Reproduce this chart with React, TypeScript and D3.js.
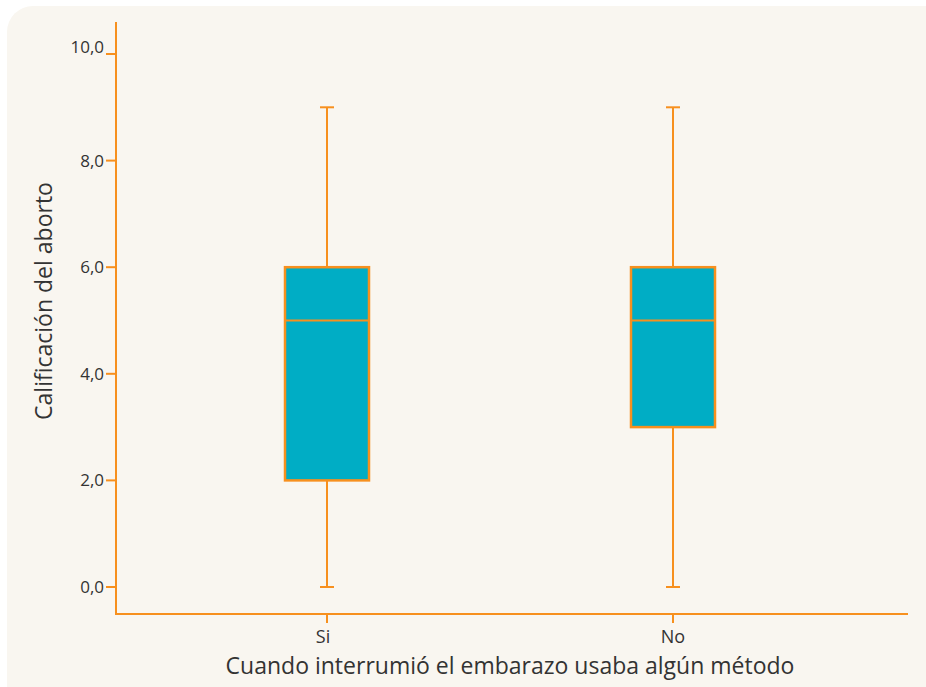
import React from "react";
import * as d3 from "d3";

const categories = ["Si", "No"];
const whiskerMax = [9, 9];
const q3 = [6, 6];
const median = [5, 5];
const q1 = [2, 3];
const whiskerMin = [0, 0];
const yTicks = [0, 2, 4, 6, 8, 10];

const W = 926;
const H = 687;
const ORANGE = "#f7901e";
const TEAL = "#00adc5";
const TEXT = "#333333";
const FONT = "'Open Sans', sans-serif";

export default function App() {
  const y = d3.scaleLinear().domain([0, 10]).range([587, 54]);
  const x = d3.scaleBand<string>().domain(categories).range([154, 846]).paddingInner(0);
  const fmt = (v: number) => d3.format(".1f")(v).replace(".", ",");
  const boxW = 84;
  const capW = 14;
  const axisX = 116;
  const axisY = 614;
  return (
    <svg width={W} height={H} style={{ position: "absolute", left: 0, top: 0, display: "block" }}>
      <rect x={7} y={6} width={W + 40} height={H + 40} rx={26} ry={26} fill="#f9f6f0" />
      <line x1={axisX} x2={axisX} y1={22} y2={axisY} stroke={ORANGE} strokeWidth={2} />
      <line x1={axisX - 1} x2={908} y1={axisY} y2={axisY} stroke={ORANGE} strokeWidth={2} />
      {yTicks.map((t) => (
        <g key={t}>
          <line x1={axisX - 10} x2={axisX} y1={y(t)} y2={y(t)} stroke={ORANGE} strokeWidth={2} />
          <text
            x={axisX - 12}
            y={t === 10 ? y(t) - 1 : y(t)}
            dy={t === 10 ? "0" : "0.35em"}
            textAnchor="end"
            fontSize={17}
            fill={TEXT}
            fontFamily={FONT}
          >
            {fmt(t)}
          </text>
        </g>
      ))}
      {categories.map((c, i) => {
        const cx = (x(c) as number) + x.bandwidth() / 2;
        return (
          <g key={c}>
            <line x1={cx} x2={cx} y1={axisY} y2={axisY + 9} stroke={ORANGE} strokeWidth={2} />
            <text x={cx - (i === 0 ? 4 : 0)} y={643} textAnchor="middle" fontSize={18} fill={TEXT} fontFamily={FONT}>
              {c}
            </text>
            <line x1={cx} x2={cx} y1={y(whiskerMax[i])} y2={y(q3[i])} stroke={ORANGE} strokeWidth={2} />
            <line x1={cx} x2={cx} y1={y(q1[i])} y2={y(whiskerMin[i])} stroke={ORANGE} strokeWidth={2} />
            <line x1={cx - capW / 2} x2={cx + capW / 2} y1={y(whiskerMax[i])} y2={y(whiskerMax[i])} stroke={ORANGE} strokeWidth={2} />
            <line x1={cx - capW / 2} x2={cx + capW / 2} y1={y(whiskerMin[i])} y2={y(whiskerMin[i])} stroke={ORANGE} strokeWidth={2} />
            <rect x={cx - boxW / 2} y={y(q3[i])} width={boxW} height={y(q1[i]) - y(q3[i])} fill={TEAL} stroke={ORANGE} strokeWidth={2.5} />
            <line x1={cx - boxW / 2} x2={cx + boxW / 2} y1={y(median[i])} y2={y(median[i])} stroke={ORANGE} strokeWidth={2} />
          </g>
        );
      })}
      <text x={510} y={674} textAnchor="middle" fontSize={23} fill={TEXT} fontFamily={FONT}>
        Cuando interrumió el embarazo usaba algún método
      </text>
      <text transform={`translate(52, 301) rotate(-90)`} textAnchor="middle" fontSize={23} fill={TEXT} fontFamily={FONT}>
        Calificación del aborto
      </text>
    </svg>
  );
}
